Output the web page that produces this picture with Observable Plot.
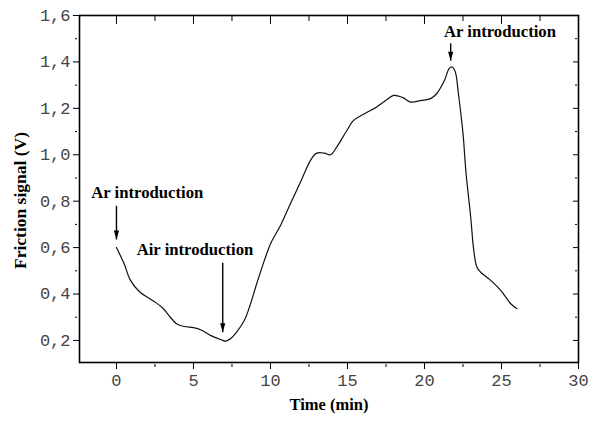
<!DOCTYPE html>
<html>
<head>
<meta charset="utf-8">
<script src="https://cdn.jsdelivr.net/npm/d3@7"></script>
<script src="https://cdn.jsdelivr.net/npm/@observablehq/plot@0.6"></script>
<style>
  html, body { margin: 0; padding: 0; background: #fff; }
  #chart svg { display: block; }
</style>
</head>
<body>
<div id="chart"></div>
<script>
// Time (min)
const time = [0, 0.5, 0.9, 1.5, 2.4, 3.0, 3.5, 3.9, 4.4, 5.0, 5.5, 6.1, 6.8, 7.1, 7.4, 7.8, 8.3, 8.7, 9.1, 9.6, 10.0, 10.7, 11.3, 12.0, 12.6, 13.0, 13.5, 13.9, 14.3, 14.9, 15.4, 16.1, 16.9, 17.5, 18.0, 18.6, 19.1, 19.8, 20.4, 20.8, 21.3, 21.6, 21.8, 22.0, 22.2, 22.5, 22.7, 23.0, 23.2, 23.4, 23.65, 24.3, 24.95, 25.6, 26.0];
// Friction signal (V)
const signal = [0.60, 0.53, 0.46, 0.41, 0.37, 0.34, 0.30, 0.272, 0.26, 0.255, 0.245, 0.222, 0.203, 0.197, 0.207, 0.236, 0.286, 0.357, 0.443, 0.544, 0.616, 0.702, 0.79, 0.89, 0.976, 1.007, 1.007, 1.0, 1.033, 1.098, 1.148, 1.177, 1.206, 1.235, 1.256, 1.246, 1.227, 1.234, 1.242, 1.264, 1.321, 1.371, 1.378, 1.357, 1.264, 1.092, 0.919, 0.732, 0.588, 0.516, 0.494, 0.459, 0.416, 0.358, 0.337];

const xTicks = [0, 5, 10, 15, 20, 25, 30];
const xMinorTicks = [2.5, 7.5, 12.5, 17.5, 22.5, 27.5];
const yTicks = [0.2, 0.4, 0.6, 0.8, 1.0, 1.2, 1.4, 1.6];
const yMinorTicks = [0.3, 0.5, 0.7, 0.9, 1.1, 1.3, 1.5];

// Annotations
const noteText = ["Ar introduction", "Air introduction", "Ar introduction"];
const noteX = [2.0, 5.1, 24.9];
const noteY = [0.835, 0.59, 1.53];
const arrowX = [0, 6.9, 21.7];
const arrowFrom = [0.78, 0.535, 1.48];
const arrowTo = [0.635, 0.235, 1.405];

const series = time.map((t, i) => ({t, v: signal[i]}));
const notes = noteText.map((s, i) => ({s, x: noteX[i], y: noteY[i]}));
const arrows = arrowX.map((x, i) => ({x, y1: arrowFrom[i], y2: arrowTo[i]}));

const fmt = d => d.toFixed(1).replace(".", ",");
const blank = () => "";
const head = {
  draw(ctx) {
    ctx.moveTo(0, 0);
    ctx.lineTo(-2.6, -9);
    ctx.lineTo(2.6, -9);
    ctx.closePath();
  }
};

const chart = Plot.plot({
  width: 600,
  height: 421,
  marginLeft: 79,
  marginRight: 22,
  marginTop: 15,
  marginBottom: 59,
  style: {fontFamily: "Liberation Mono", fontSize: "17px", color: "#000", background: "#fff"},
  x: {domain: [-2.4, 30]},
  y: {domain: [0.105, 1.6]},
  marks: [
    Plot.frame({strokeWidth: 1.6}),
    Plot.axisX(xTicks, {tickSize: 7, tickPadding: 4, tickFormat: d => String(d), label: null, fill: "#444", fontSize: 17, fontFamily: "Liberation Mono"}),
    Plot.axisX(xMinorTicks, {tickSize: 3, tickPadding: 0, tickFormat: blank, label: null, dy: 2}),
    Plot.axisX(xTicks, {anchor: "top", tickSize: 8, dy: 8, tickFormat: blank, label: null}),
    Plot.axisX(xMinorTicks, {anchor: "top", tickSize: 5, dy: 5, tickFormat: blank, label: null}),
    Plot.axisY(yTicks, {tickSize: 6, tickPadding: 3, tickFormat: fmt, label: null, fill: "#444", fontSize: 17, fontFamily: "Liberation Mono"}),
    Plot.axisY(yMinorTicks, {tickSize: 2, tickPadding: 0, tickFormat: blank, label: null, dx: -2}),
    Plot.axisY(yTicks, {anchor: "right", tickSize: 6, dx: -6, tickFormat: blank, label: null}),
    Plot.axisY(yMinorTicks, {anchor: "right", tickSize: 2, dx: -4, tickFormat: blank, label: null}),
    Plot.line(series, {x: "t", y: "v", curve: "catmull-rom", stroke: "#111", strokeWidth: 1.2}),
    Plot.link(arrows, {x1: "x", x2: "x", y1: "y1", y2: "y2", stroke: "#000", strokeWidth: 1.4}),
    Plot.dot(arrows, {x: "x", y: "y2", symbol: head, fill: "#000", stroke: "none", r: 3}),
    Plot.text(notes, {x: "x", y: "y", text: "s", fontFamily: "Liberation Serif", fontWeight: "bold", fontSize: 16.7, fill: "#000"}),
    Plot.text(["Time (min)"], {frameAnchor: "bottom", dy: 47, fontFamily: "Liberation Serif", fontWeight: "bold", fontSize: 16.5, fill: "#000"}),
    Plot.text(["Friction signal (V)"], {frameAnchor: "left", textAnchor: "middle", dx: -59, dy: 11.5, rotate: -90, fontFamily: "Liberation Serif", fontWeight: "bold", fontSize: 17.5, fill: "#000"})
  ]
});
document.getElementById("chart").appendChild(chart);
</script>
</body>
</html>
